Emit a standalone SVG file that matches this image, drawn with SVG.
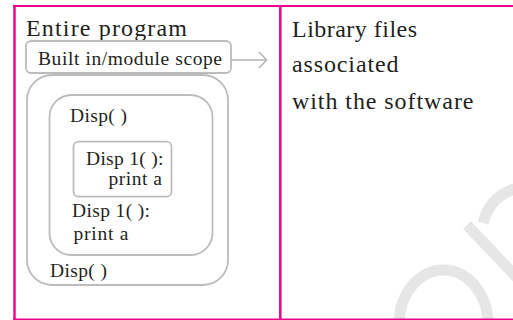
<svg xmlns="http://www.w3.org/2000/svg" width="513" height="320" viewBox="0 0 513 320">
  <style>
    .frame { stroke: #ec008c; fill: none; }
    .box { fill: none; stroke: #bcbcbc; stroke-width: 1.8; }
    .conn { fill: none; stroke: #b3b3b3; stroke-width: 1.4; }
    .big { font-family: "Liberation Serif", "Times New Roman", serif; font-size: 24px; fill: #231f20; }
    .small { font-family: "Liberation Serif", "Times New Roman", serif; font-size: 19.5px; fill: #231f20; }
    .wm { fill: none; stroke: #e6e6e6; stroke-width: 11; }
  </style>
  <rect width="513" height="320" fill="#ffffff"/>

  <g id="watermark">
    <path class="wm" d="M399,324 A44.5,54 0 0 1 488,324"/>
    <path class="wm" d="M467,225 L522,283"/>
    <path class="wm" d="M483,223 Q490,196 515,189"/>
  </g>

  <g id="frame">
    <line class="frame" x1="13" y1="6" x2="513" y2="6" stroke-width="2"/>
    <line class="frame" x1="14.5" y1="5" x2="14.5" y2="320" stroke-width="2.4"/>
    <line class="frame" x1="280.3" y1="5" x2="280.3" y2="320" stroke-width="2.5"/>
    <line class="frame" x1="13" y1="319.3" x2="513" y2="319.3" stroke-width="1.6"/>
  </g>

  <g id="entire-program">
    <text class="big" x="26" y="36" textLength="161">Entire program</text>
  </g>

  <g id="builtin-scope">
    <rect class="box" x="26" y="41" width="205" height="32" rx="5"/>
    <text class="small" x="38" y="65" textLength="184">Built in/module scope</text>
  </g>

  <g id="outer-disp">
    <rect class="box" x="27" y="75" width="201" height="210" rx="25"/>
    <text class="small" x="50" y="277" textLength="57">Disp( )</text>
  </g>

  <g id="middle-disp">
    <rect class="box" x="49.5" y="95" width="163" height="160" rx="22"/>
    <text class="small" x="70" y="122" textLength="57">Disp( )</text>
    <text class="small" x="72" y="217" textLength="78">Disp 1( ):</text>
    <text class="small" x="73.5" y="240" textLength="55">print a</text>
  </g>

  <g id="inner-disp1">
    <rect class="box" x="73.5" y="141.7" width="98" height="55" rx="5"/>
    <text class="small" x="86" y="165" textLength="77.5">Disp 1( ):</text>
    <text class="small" x="108.5" y="185" textLength="53.5">print a</text>
  </g>

  <g id="library-files">
    <text class="big" x="292" y="37" textLength="125">Library files</text>
    <text class="big" x="292" y="72" textLength="106.5">associated</text>
    <text class="big" x="292" y="108.5" textLength="181.5">with the software</text>
  </g>

  <g id="connectors">
    <line class="conn" x1="231" y1="60" x2="266.5" y2="60"/>
    <polyline class="conn" points="259,52 266.7,60 259,68"/>
  </g>
</svg>
